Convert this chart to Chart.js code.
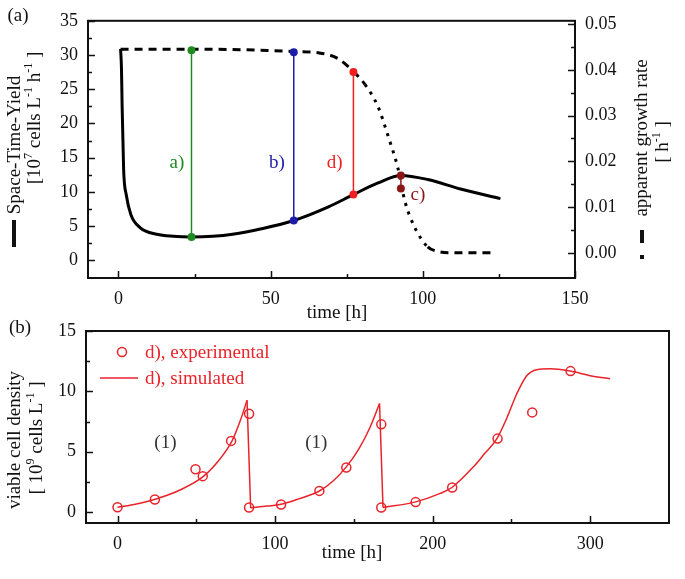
<!DOCTYPE html>
<html>
<head>
<meta charset="utf-8">
<script src="https://cdn.jsdelivr.net/npm/chart.js@4/dist/chart.umd.min.js"></script>
<style>
  body { margin: 0; background: #fff; }
  #wrap { position: relative; width: 685px; height: 579px; }
  #chartA { position: absolute; left: 0; top: 0; }
  #chartB { position: absolute; left: 0; top: 300px; }
</style>
</head>
<body>
<div id="wrap">
  <canvas id="chartA" width="685" height="330"></canvas>
  <canvas id="chartB" width="685" height="279"></canvas>
</div>
<script>
// ---- panel (a) data ----
// space-time-yield, left axis [10^7 cells/L/h]
const styTime = [0.7, 1.0, 1.2, 1.7, 2.6, 4.1, 7.2, 12.6, 18, 24, 31, 37.5, 47, 57.6, 69, 77.2, 85.3, 92.8, 101.6, 112.4, 125.5];
const styValue = [30.9, 28, 22.8, 13.3, 9.5, 6.65, 4.74, 3.8, 3.5, 3.4, 3.5, 3.8, 4.6, 5.8, 7.8, 9.6, 11.3, 12.4, 11.8, 10.4, 9.0];

// apparent growth rate, right axis [1/h]
const grTime = [0.7, 20, 40, 50, 57.6, 65.8, 72, 77.2, 81, 85.3, 88.6, 91.9, 94.1, 97.4, 101.6, 105, 109, 124];
const grValue = [0.0445, 0.0445, 0.0444, 0.0442, 0.0440, 0.0437, 0.0425, 0.0396, 0.0368, 0.0319, 0.0255, 0.0183, 0.0113, 0.0055, 0.0013, 0.0003, 0, 0];

// harvest points a) b) d) c), read on the left axis
const markerNames = ["a)", "b)", "d)", "c)"];
const markerTime = [24, 57.6, 77.2, 92.8];
const markerBottom = [3.4, 5.8, 9.6, 10.5];
const markerTop = [30.7, 30.4, 27.5, 12.4];
const markerLabelTime = [19.2, 52.1, 71, 98.4];
const markerLabelValue = [14.2, 14.2, 14.2, 9.6];
const markerColors = ["#1f8a1f", "#1c1ca8", "#f01e1e", "#8b1616"];

const aTimeTicks = [0, 50, 100, 150];
const aTimeMinor = [25, 75, 125];
const styTicks = [0, 5, 10, 15, 20, 25, 30, 35];
const styMinor = [2.5, 7.5, 12.5, 17.5, 22.5, 27.5, 32.5];
const grTicks = [0, 0.01, 0.02, 0.03, 0.04, 0.05];
const grMinor = [0.005, 0.015, 0.025, 0.035, 0.045];

// ---- panel (b) data ----
const expTime = [0, 23.7, 49.5, 54.1, 72.1, 83.5, 83.5, 103.8, 128.1, 145.2, 167.4, 167.4, 189.2, 212.4, 241.2, 263.2, 287.5];
const expValue = [0.4, 1.05, 3.55, 2.98, 5.9, 8.15, 0.39, 0.63, 1.76, 3.69, 7.27, 0.39, 0.83, 2.04, 6.09, 8.26, 11.68];

const sim1Time = [0, 12, 24, 40, 54.7, 65, 72.7, 78, 82.2];
const sim1Value = [0.4, 0.68, 1.07, 1.85, 2.98, 4.4, 5.9, 7.6, 9.26];
const sim2Time = [84.5, 95, 103.8, 115, 128.1, 137, 145.2, 153, 160, 166.3];
const sim2Value = [0.35, 0.5, 0.65, 1.1, 1.75, 2.6, 3.75, 5.2, 6.95, 9.0];
const sim3Time = [168.5, 189.2, 204.8, 212.2, 225.9, 233, 240.8, 247.1, 253.4, 259.7, 266.1, 274.6, 287.3, 300, 312.6];
const sim3Value = [0.39, 0.85, 1.55, 2.04, 3.75, 4.85, 6.09, 7.8, 9.8, 11.3, 11.8, 11.87, 11.68, 11.3, 11.05];

const bTimeTicks = [0, 100, 200, 300];
const bTimeMinor = [50, 150, 250];
const vcdTicks = [0, 5, 10, 15];
const vcdMinor = [2.5, 7.5, 12.5];

const FONT = '"Liberation Serif", "Times New Roman", serif';
const RED = "#e8232a";

function pts(xs, ys) {
  return xs.map((x, i) => ({ x: x, y: ys[i] }));
}

// text with ^{...} superscripts, centred at (x, y), optionally rotated
function richText(ctx, str, x, y, size, rotate, align) {
  const parts = str.split(/\^\{([^}]*)\}/).map((t, i) => ({ t: t, sup: i % 2 === 1 }));
  const big = size + "px " + FONT;
  const small = Math.round(size * 0.62) + "px " + FONT;
  ctx.save();
  ctx.translate(x, y);
  if (rotate) ctx.rotate(-Math.PI / 2);
  let w = 0;
  parts.forEach(p => { ctx.font = p.sup ? small : big; w += ctx.measureText(p.t).width; });
  let cx = align === "left" ? 0 : -w / 2;
  ctx.textBaseline = "middle";
  ctx.textAlign = "left";
  parts.forEach(p => {
    ctx.font = p.sup ? small : big;
    ctx.fillText(p.t, cx, p.sup ? -size * 0.3 : 0);
    cx += ctx.measureText(p.t).width;
  });
  ctx.restore();
}

function drawTicks(chart, id, values, len) {
  const s = chart.scales[id];
  const a = chart.chartArea;
  const ctx = chart.ctx;
  ctx.beginPath();
  values.forEach(v => {
    const p = Math.round(s.getPixelForValue(v)) + 0.5;
    if (s.axis === "x") { ctx.moveTo(p, a.bottom); ctx.lineTo(p, a.bottom - len); }
    else if (s.position === "left") { ctx.moveTo(a.left, p); ctx.lineTo(a.left + len, p); }
    else { ctx.moveTo(a.right, p); ctx.lineTo(a.right - len, p); }
  });
  ctx.stroke();
}

function frame(chart) {
  const a = chart.chartArea;
  const ctx = chart.ctx;
  ctx.save();
  ctx.strokeStyle = "#111";
  ctx.lineWidth = 2;
  ctx.strokeRect(a.left, a.top, a.right - a.left, a.bottom - a.top);
  ctx.restore();
}

function axisStyle(min, max, ticks, fit, format) {
  const axis = {
    type: "linear", min: min, max: max,
    grid: { display: false, drawTicks: false },
    border: { display: false },
    ticks: { font: { family: FONT, size: 18 }, color: "#111", padding: 10 },
    afterBuildTicks: s => { s.ticks = ticks.map(v => ({ value: v })); },
    afterFit: fit
  };
  if (format) axis.ticks.callback = format;
  return axis;
}

const panelA = {
  id: "panelA",
  afterDraw(chart) {
    const ctx = chart.ctx;
    frame(chart);
    ctx.save();
    ctx.strokeStyle = "#111";
    ctx.lineWidth = 1.5;
    drawTicks(chart, "x", aTimeTicks, 7);
    drawTicks(chart, "x", aTimeMinor, 4);
    drawTicks(chart, "y", styTicks, 7);
    drawTicks(chart, "y", styMinor, 4);
    drawTicks(chart, "y2", grTicks, 7);
    drawTicks(chart, "y2", grMinor, 4);

    ctx.fillStyle = "#111";
    richText(ctx, "(a)", 18, 16, 19);
    richText(ctx, "time [h]", 337, 313, 19);
    richText(ctx, "Space-Time-Yield", 15, 145, 19, true);
    richText(ctx, "[10^{7} cells L^{-1} h^{-1} ]", 35, 118, 19, true);
    richText(ctx, "apparent growth rate", 642, 138, 19, true);
    richText(ctx, "[ h^{-1} ]", 663, 142, 19, true);
    // legend marks beside the axis titles
    ctx.fillRect(12, 220, 4, 27);
    ctx.fillRect(640, 230, 4, 13);
    ctx.fillRect(640, 255, 4, 4);

    const sx = chart.scales.x, sy = chart.scales.y;
    markerNames.forEach((n, i) => {
      ctx.fillStyle = markerColors[i];
      richText(ctx, n, sx.getPixelForValue(markerLabelTime[i]), sy.getPixelForValue(markerLabelValue[i]), 19);
    });
    ctx.restore();
  }
};

const markerSets = markerNames.map((n, i) => ({
  type: "line",
  label: n,
  data: [{ x: markerTime[i], y: markerBottom[i] }, { x: markerTime[i], y: markerTop[i] }],
  borderColor: markerColors[i],
  backgroundColor: markerColors[i],
  borderWidth: 1.5,
  pointRadius: 4,
  pointBorderWidth: 0,
  yAxisID: "y",
  order: 0
}));

new Chart(document.getElementById("chartA"), {
  type: "line",
  data: {
    datasets: markerSets.concat([
      {
        label: "Space-Time-Yield",
        data: pts(styTime, styValue),
        borderColor: "#000",
        borderWidth: 3,
        pointRadius: 0,
        cubicInterpolationMode: "monotone",
        yAxisID: "y",
        order: 1
      },
      {
        label: "apparent growth rate",
        data: pts(grTime, grValue),
        borderColor: "#000",
        borderWidth: 3,
        pointRadius: 0,
        borderCapStyle: "butt",
        cubicInterpolationMode: "monotone",
        segment: {
          borderDash: c => Math.abs(c.p1.y - c.p0.y) > 1.2 * Math.abs(c.p1.x - c.p0.x) ? [3, 6] : [8, 6]
        },
        yAxisID: "y2",
        order: 2
      }
    ])
  },
  options: {
    responsive: false,
    animation: false,
    layout: { padding: { top: 14, left: 0, right: 0, bottom: 0 } },
    plugins: { legend: { display: false }, tooltip: { enabled: false } },
    scales: {
      x: axisStyle(-10, 150, aTimeTicks, s => { s.height = 52; }),
      y: Object.assign(axisStyle(-2.6, 35, styTicks, s => { s.width = 88; }), { position: "left" }),
      y2: Object.assign(axisStyle(-0.0055, 0.0507, grTicks, s => { s.width = 110; }, v => v.toFixed(2)), {
        position: "right"
      })
    }
  },
  plugins: [panelA]
});

const panelB = {
  id: "panelB",
  afterDraw(chart) {
    const ctx = chart.ctx;
    frame(chart);
    ctx.save();
    ctx.strokeStyle = "#111";
    ctx.lineWidth = 1.5;
    drawTicks(chart, "x", bTimeTicks, 7);
    drawTicks(chart, "x", bTimeMinor, 4);
    drawTicks(chart, "y", vcdTicks, 7);
    drawTicks(chart, "y", vcdMinor, 4);

    ctx.fillStyle = "#111";
    richText(ctx, "(b)", 20, 28, 19);
    richText(ctx, "time [h]", 352, 253, 19);
    richText(ctx, "viable cell density", 15, 140, 19, true);
    richText(ctx, "[ 10^{9} cells L^{-1} ]", 37, 138, 19, true);

    const sx = chart.scales.x, sy = chart.scales.y;
    ctx.fillStyle = "#333";
    [30.4, 126.2].forEach(t => richText(ctx, "(1)", sx.getPixelForValue(t), sy.getPixelForValue(5.7), 19));

    // legend
    ctx.strokeStyle = RED;
    ctx.fillStyle = RED;
    ctx.lineWidth = 1.5;
    ctx.beginPath();
    ctx.arc(122, 52, 4.5, 0, Math.PI * 2);
    ctx.stroke();
    ctx.beginPath();
    ctx.moveTo(100, 78);
    ctx.lineTo(138, 78);
    ctx.stroke();
    richText(ctx, "d), experimental", 145, 53, 19, false, "left");
    richText(ctx, "d), simulated", 145, 79, 19, false, "left");
    ctx.restore();
  }
};

const simStyle = {
  type: "line",
  borderColor: RED,
  borderWidth: 1.5,
  pointRadius: 0,
  cubicInterpolationMode: "monotone"
};

// vertical drops between the simulated batches
const dropData = [
  { x: sim1Time[sim1Time.length - 1], y: sim1Value[sim1Value.length - 1] },
  { x: sim2Time[0], y: sim2Value[0] },
  { x: NaN, y: null },
  { x: sim2Time[sim2Time.length - 1], y: sim2Value[sim2Value.length - 1] },
  { x: sim3Time[0], y: sim3Value[0] }
];

new Chart(document.getElementById("chartB"), {
  type: "line",
  data: {
    datasets: [
      {
        type: "scatter",
        label: "d), experimental",
        data: pts(expTime, expValue),
        showLine: false,
        pointRadius: 4.5,
        pointBorderWidth: 1.5,
        borderColor: RED,
        backgroundColor: "rgba(0,0,0,0)"
      },
      Object.assign({ label: "d), simulated", data: pts(sim1Time, sim1Value) }, simStyle),
      Object.assign({ label: "sim2", data: pts(sim2Time, sim2Value) }, simStyle),
      Object.assign({ label: "sim3", data: pts(sim3Time, sim3Value) }, simStyle),
      Object.assign({ label: "drops", data: dropData, spanGaps: false }, simStyle, { cubicInterpolationMode: "default", tension: 0 })
    ]
  },
  options: {
    responsive: false,
    animation: false,
    layout: { padding: { top: 31, left: 0, right: 16, bottom: 0 } },
    plugins: { legend: { display: false }, tooltip: { enabled: false } },
    scales: {
      x: axisStyle(-20, 350, bTimeTicks, s => { s.height = 56; }),
      y: Object.assign(axisStyle(-0.9, 15, vcdTicks, s => { s.width = 86; }), { position: "left" })
    }
  },
  plugins: [panelB]
});
</script>
</body>
</html>
